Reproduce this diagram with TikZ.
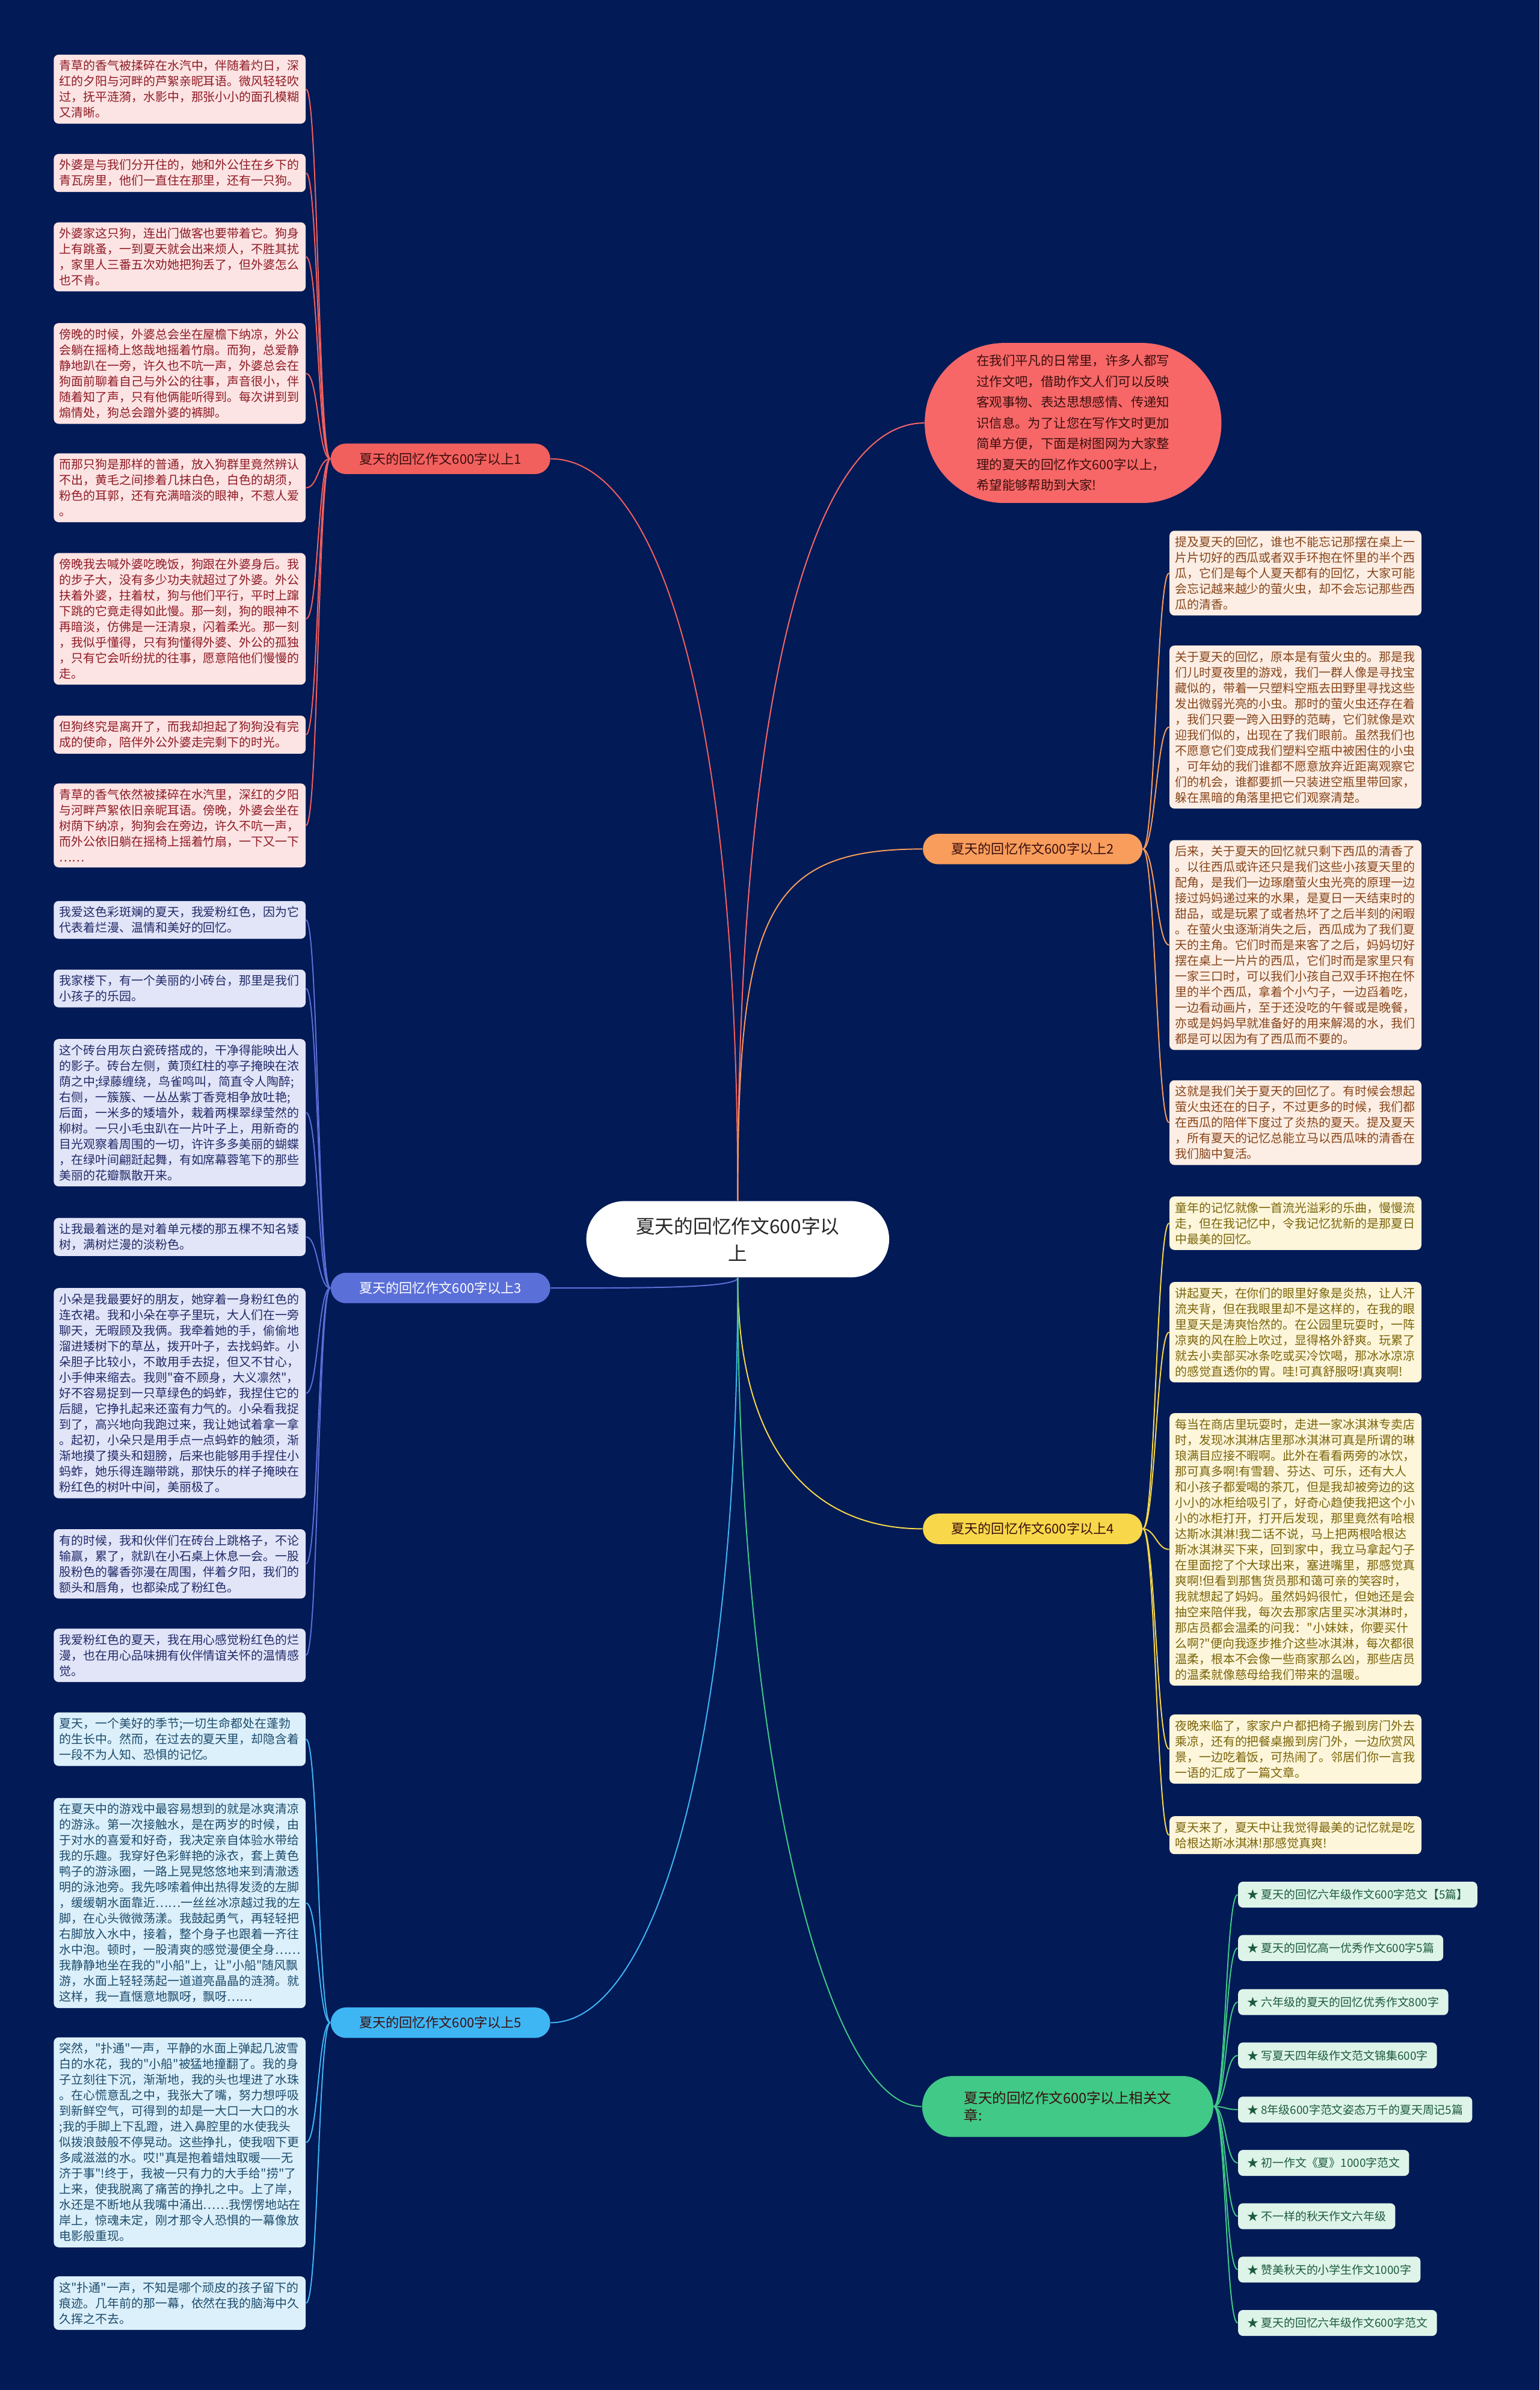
\documentclass[tikz,border=0pt]{standalone}
\usepackage{fontspec}
\setmainfont{Noto Sans CJK SC}[Ligatures=TeXOff]
\usepackage{xcolor}
\usepackage{tikz}
\usetikzlibrary{shapes.misc, backgrounds, positioning}
\exhyphenpenalty=10000
\definecolor{fond}{HTML}{021A56}
\definecolor{rouge}{HTML}{F2605E}
\definecolor{corail}{HTML}{F76767}
\definecolor{orangeb}{HTML}{F89D5C}
\definecolor{lavande}{HTML}{5B6FD8}
\definecolor{jaune}{HTML}{F8D84A}
\definecolor{ciel}{HTML}{3FB6F4}
\definecolor{menthe}{HTML}{40C987}
\definecolor{roseclair}{HTML}{FDE4E4}
\definecolor{bordeaux}{HTML}{8E1B24}
\definecolor{lavclair}{HTML}{E2E5F8}
\definecolor{marine}{HTML}{202A68}
\definecolor{cielclair}{HTML}{DCF0FB}
\definecolor{petrole}{HTML}{1D4C6C}
\definecolor{pecheclair}{HTML}{FCEEE4}
\definecolor{brun}{HTML}{87441A}
\definecolor{cremeclair}{HTML}{FDF6DB}
\definecolor{olive}{HTML}{7B6409}
\definecolor{mentheclair}{HTML}{DEF4E9}
\definecolor{sapin}{HTML}{1C5B3C}
\definecolor{encre}{HTML}{3A0E0E}
\tikzset{
  carte/.style={rectangle, rounded corners=0.08cm, text width=3.95cm,
    inner xsep=0.09cm, inner ysep=0.09cm, align=left, anchor=west,
    font=\fontsize{5.6}{7.3}\selectfont},
  carterose/.style={carte, fill=roseclair, text=bordeaux},
  cartelav/.style={carte, fill=lavclair, text=marine},
  carteciel/.style={carte, fill=cielclair, text=petrole},
  cartepeche/.style={carte, fill=pecheclair, text=brun},
  cartecreme/.style={carte, fill=cremeclair, text=olive},
  article/.style={rectangle, rounded corners=0.08cm, fill=mentheclair, text=sapin,
    minimum height=0.425cm, inner xsep=0.15cm, inner ysep=0.5mm, anchor=west,
    font=\fontsize{5.3}{6}\selectfont},
  branche/.style={rounded rectangle, minimum width=3.7cm, minimum height=0.5cm,
    inner sep=0.5mm, text=encre, font=\fontsize{6.2}{7}\selectfont},
  racine/.style={rounded rectangle, fill=white, text=black!85, minimum width=5.2cm,
    minimum height=1.25cm, align=center, font=\fontsize{8.9}{12.8}\selectfont},
  lien/.style={draw=#1, line width=0.55pt},
}

\begin{document}
\begin{tikzpicture}[x=0.025cm, y=-0.025cm]
    \useasboundingbox (0,0) rectangle (1010,1568);

    % centre et branches
    \node[racine] (centre) at (484,813) {夏天的回忆作文600字以\\上};
    \node[rounded rectangle, fill=corail, text=encre, minimum width=5.1cm, minimum height=2.625cm,
          align=left, font=\fontsize{6}{9.7}\selectfont] (intro) at (704,277.5)
      {在我们平凡的日常里，许多人都写\\过作文吧，借助作文人们可以反映\\客观事物、表达思想感情、传递知\\识信息。为了让您在写作文时更加\\简单方便，下面是树图网为大家整\\理的夏天的回忆作文600字以上，\\希望能够帮助到大家!};
    \node[branche, fill=rouge] (br1) at (289,301) {夏天的回忆作文600字以上1};
    \node[branche, fill=orangeb] (br2) at (677.5,557) {夏天的回忆作文600字以上2};
    \node[branche, fill=lavande, text=white] (br3) at (289,845) {夏天的回忆作文600字以上3};
    \node[branche, fill=jaune] (br4) at (677.5,1003) {夏天的回忆作文600字以上4};
    \node[branche, fill=ciel] (br5) at (289,1327) {夏天的回忆作文600字以上5};
    \node[branche, fill=menthe, minimum width=4.875cm, minimum height=1cm, align=left,
          font=\fontsize{6.6}{8.2}\selectfont] (liens) at (700.5,1382)
      {夏天的回忆作文600字以上相关文\\章:};

    % branche 1
    \node[carterose] (un1) at (35,58.5) {青草的香气被揉碎在水汽中，伴随着灼日，深\\红的夕阳与河畔的芦絮亲昵耳语。微风轻轻吹\\过，抚平涟漪，水影中，那张小小的面孔模糊\\又清晰。};
    \node[carterose] (un2) at (35,113.5) {外婆是与我们分开住的，她和外公住在乡下的\\青瓦房里，他们一直住在那里，还有一只狗。};
    \node[carterose] (un3) at (35,168.5) {外婆家这只狗，连出门做客也要带着它。狗身\\上有跳蚤，一到夏天就会出来烦人，不胜其扰\\，家里人三番五次劝她把狗丢了，但外婆怎么\\也不肯。};
    \node[carterose] (un4) at (35,245) {傍晚的时候，外婆总会坐在屋檐下纳凉，外公\\会躺在摇椅上悠哉地摇着竹扇。而狗，总爱静\\静地趴在一旁，许久也不吭一声，外婆总会在\\狗面前聊着自己与外公的往事，声音很小，伴\\随着知了声，只有他俩能听得到。每次讲到到\\煽情处，狗总会蹭外婆的裤脚。};
    \node[carterose] (un5) at (35,320) {而那只狗是那样的普通，放入狗群里竟然辨认\\不出，黄毛之间掺着几抹白色，白色的胡须，\\粉色的耳郭，还有充满暗淡的眼神，不惹人爱\\。};
    \node[carterose] (un6) at (35,406) {傍晚我去喊外婆吃晚饭，狗跟在外婆身后。我\\的步子大，没有多少功夫就超过了外婆。外公\\扶着外婆，拄着杖，狗与他们平行，平时上蹿\\下跳的它竟走得如此慢。那一刻，狗的眼神不\\再暗淡，仿佛是一汪清泉，闪着柔光。那一刻\\，我似乎懂得，只有狗懂得外婆、外公的孤独\\，只有它会听纷扰的往事，愿意陪他们慢慢的\\走。};
    \node[carterose] (un7) at (35,482) {但狗终究是离开了，而我却担起了狗狗没有完\\成的使命，陪伴外公外婆走完剩下的时光。};
    \node[carterose] (un8) at (35,541.5) {青草的香气依然被揉碎在水汽里，深红的夕阳\\与河畔芦絮依旧亲昵耳语。傍晚，外婆会坐在\\树荫下纳凉，狗狗会在旁边，许久不吭一声，\\而外公依旧躺在摇椅上摇着竹扇，一下又一下\\……};

    % branche 3
    \node[cartelav] (trois1) at (35,603.5) {我爱这色彩斑斓的夏天，我爱粉红色，因为它\\代表着烂漫、温情和美好的回忆。};
    \node[cartelav] (trois2) at (35,648.5) {我家楼下，有一个美丽的小砖台，那里是我们\\小孩子的乐园。};
    \node[cartelav] (trois3) at (35,730) {这个砖台用灰白瓷砖搭成的，干净得能映出人\\的影子。砖台左侧，黄顶红柱的亭子掩映在浓\\荫之中;绿藤缠绕，鸟雀鸣叫，简直令人陶醉;\\右侧，一簇簇、一丛丛紫丁香竞相争放吐艳;\\后面，一米多的矮墙外，栽着两棵翠绿莹然的\\柳树。一只小毛虫趴在一片叶子上，用新奇的\\目光观察着周围的一切，许许多多美丽的蝴蝶\\，在绿叶间翩跹起舞，有如席幕蓉笔下的那些\\美丽的花瓣飘散开来。};
    \node[cartelav] (trois4) at (35,811.5) {让我最着迷的是对着单元楼的那五棵不知名矮\\树，满树烂漫的淡粉色。};
    \node[cartelav] (trois5) at (35,914) {小朵是我最要好的朋友，她穿着一身粉红色的\\连衣裙。我和小朵在亭子里玩，大人们在一旁\\聊天，无暇顾及我俩。我牵着她的手，偷偷地\\溜进矮树下的草丛，拨开叶子，去找蚂蚱。小\\朵胆子比较小，不敢用手去捉，但又不甘心，\\小手伸来缩去。我则"奋不顾身，大义凛然"，\\好不容易捉到一只草绿色的蚂蚱，我捏住它的\\后腿，它挣扎起来还蛮有力气的。小朵看我捉\\到了，高兴地向我跑过来，我让她试着拿一拿\\。起初，小朵只是用手点一点蚂蚱的触须，渐\\渐地摸了摸头和翅膀，后来也能够用手捏住小\\蚂蚱，她乐得连蹦带跳，那快乐的样子掩映在\\粉红色的树叶中间，美丽极了。};
    \node[cartelav] (trois6) at (35,1026) {有的时候，我和伙伴们在砖台上跳格子，不论\\输赢，累了，就趴在小石桌上休息一会。一股\\股粉色的馨香弥漫在周围，伴着夕阳，我们的\\额头和唇角，也都染成了粉红色。};
    \node[cartelav] (trois7) at (35,1086) {我爱粉红色的夏天，我在用心感觉粉红色的烂\\漫，也在用心品味拥有伙伴情谊关怀的温情感\\觉。};

    % branche 5
    \node[carteciel] (cinq1) at (35,1141) {夏天，一个美好的季节;一切生命都处在蓬勃\\的生长中。然而，在过去的夏天里，却隐含着\\一段不为人知、恐惧的记忆。};
    \node[carteciel] (cinq2) at (35,1248.5) {在夏天中的游戏中最容易想到的就是冰爽清凉\\的游泳。第一次接触水，是在两岁的时候，由\\于对水的喜爱和好奇，我决定亲自体验水带给\\我的乐趣。我穿好色彩鲜艳的泳衣，套上黄色\\鸭子的游泳圈，一路上晃晃悠悠地来到清澈透\\明的泳池旁。我先哆嗦着伸出热得发烫的左脚\\，缓缓朝水面靠近……一丝丝冰凉越过我的左\\脚，在心头微微荡漾。我鼓起勇气，再轻轻把\\右脚放入水中，接着，整个身子也跟着一齐往\\水中泡。顿时，一股清爽的感觉漫便全身……\\我静静地坐在我的"小船"上，让"小船"随风飘\\游，水面上轻轻荡起一道道亮晶晶的涟漪。就\\这样，我一直惬意地飘呀，飘呀……};
    \node[carteciel] (cinq3) at (35,1405.5) {突然，"扑通"一声，平静的水面上弹起几波雪\\白的水花，我的"小船"被猛地撞翻了。我的身\\子立刻往下沉，渐渐地，我的头也埋进了水珠\\。在心慌意乱之中，我张大了嘴，努力想呼吸\\到新鲜空气，可得到的却是一大口一大口的水\\;我的手脚上下乱蹬，进入鼻腔里的水使我头\\似拨浪鼓般不停晃动。这些挣扎，使我咽下更\\多咸滋滋的水。哎!"真是抱着蜡烛取暖——无\\济于事"!终于，我被一只有力的大手给"捞"了\\上来，使我脱离了痛苦的挣扎之中。上了岸，\\水还是不断地从我嘴中涌出……我愣愣地站在\\岸上，惊魂未定，刚才那令人恐惧的一幕像放\\电影般重现。};
    \node[carteciel] (cinq4) at (35,1511) {这"扑通"一声，不知是哪个顽皮的孩子留下的\\痕迹。几年前的那一幕，依然在我的脑海中久\\久挥之不去。};

    % branche 2
    \node[cartepeche] (deux1) at (767,376) {提及夏天的回忆，谁也不能忘记那摆在桌上一\\片片切好的西瓜或者双手环抱在怀里的半个西\\瓜，它们是每个人夏天都有的回忆，大家可能\\会忘记越来越少的萤火虫，却不会忘记那些西\\瓜的清香。};
    \node[cartepeche] (deux2) at (767,477) {关于夏天的回忆，原本是有萤火虫的。那是我\\们儿时夏夜里的游戏，我们一群人像是寻找宝\\藏似的，带着一只塑料空瓶去田野里寻找这些\\发出微弱光亮的小虫。那时的萤火虫还存在着\\，我们只要一跨入田野的范畴，它们就像是欢\\迎我们似的，出现在了我们眼前。虽然我们也\\不愿意它们变成我们塑料空瓶中被困住的小虫\\，可年幼的我们谁都不愿意放弃近距离观察它\\们的机会，谁都要抓一只装进空瓶里带回家，\\躲在黑暗的角落里把它们观察清楚。};
    \node[cartepeche] (deux3) at (767,620) {后来，关于夏天的回忆就只剩下西瓜的清香了\\。以往西瓜或许还只是我们这些小孩夏天里的\\配角，是我们一边琢磨萤火虫光亮的原理一边\\接过妈妈递过来的水果，是夏日一天结束时的\\甜品，或是玩累了或者热坏了之后半刻的闲暇\\。在萤火虫逐渐消失之后，西瓜成为了我们夏\\天的主角。它们时而是来客了之后，妈妈切好\\摆在桌上一片片的西瓜，它们时而是家里只有\\一家三口时，可以我们小孩自己双手环抱在怀\\里的半个西瓜，拿着个小勺子，一边舀着吃，\\一边看动画片，至于还没吃的午餐或是晚餐，\\亦或是妈妈早就准备好的用来解渴的水，我们\\都是可以因为有了西瓜而不要的。};
    \node[cartepeche] (deux4) at (767,736.5) {这就是我们关于夏天的回忆了。有时候会想起\\萤火虫还在的日子，不过更多的时候，我们都\\在西瓜的陪伴下度过了炎热的夏天。提及夏天\\，所有夏天的记忆总能立马以西瓜味的清香在\\我们脑中复活。};

    % branche 4
    \node[cartecreme] (quatre1) at (767,802.5) {童年的记忆就像一首流光溢彩的乐曲，慢慢流\\走，但在我记忆中，令我记忆犹新的是那夏日\\中最美的回忆。};
    \node[cartecreme] (quatre2) at (767,874) {讲起夏天，在你们的眼里好象是炎热，让人汗\\流夹背，但在我眼里却不是这样的，在我的眼\\里夏天是涛爽怡然的。在公园里玩耍时，一阵\\凉爽的风在脸上吹过，显得格外舒爽。玩累了\\就去小卖部买冰条吃或买冷饮喝，那冰冰凉凉\\的感觉直透你的胃。哇!可真舒服呀!真爽啊!};
    \node[cartecreme] (quatre3) at (767,1016.5) {每当在商店里玩耍时，走进一家冰淇淋专卖店\\时，发现冰淇淋店里那冰淇淋可真是所谓的琳\\琅满目应接不暇啊。此外在看看两旁的冰饮，\\那可真多啊!有雪碧、芬达、可乐，还有大人\\和小孩子都爱喝的茶兀，但是我却被旁边的这\\小小的冰柜给吸引了，好奇心趋使我把这个小\\小的冰柜打开，打开后发现，那里竟然有哈根\\达斯冰淇淋!我二话不说，马上把两根哈根达\\斯冰淇淋买下来，回到家中，我立马拿起勺子\\在里面挖了个大球出来，塞进嘴里，那感觉真\\爽啊!但看到那售货员那和蔼可亲的笑容时，\\我就想起了妈妈。虽然妈妈很忙，但她还是会\\抽空来陪伴我，每次去那家店里买冰淇淋时，\\那店员都会温柔的问我："小妹妹，你要买什\\么啊?"便向我逐步推介这些冰淇淋，每次都很\\温柔，根本不会像一些商家那么凶，那些店员\\的温柔就像慈母给我们带来的温暖。};
    \node[cartecreme] (quatre4) at (767,1147.5) {夜晚来临了，家家户户都把椅子搬到房门外去\\乘凉，还有的把餐桌搬到房门外，一边欣赏风\\景，一边吃着饭，可热闹了。邻居们你一言我\\一语的汇成了一篇文章。};
    \node[cartecreme] (quatre5) at (767,1204) {夏天来了，夏天中让我觉得最美的记忆就是吃\\哈根达斯冰淇淋!那感觉真爽!};

    % articles
    \node[article] (art1) at (812,1243) {★ 夏天的回忆六年级作文600字范文【5篇】};
    \node[article] (art2) at (812,1278) {★ 夏天的回忆高一优秀作文600字5篇};
    \node[article] (art3) at (812,1313.5) {★ 六年级的夏天的回忆优秀作文800字};
    \node[article] (art4) at (812,1348.5) {★ 写夏天四年级作文范文锦集600字};
    \node[article] (art5) at (812,1384) {★ 8年级600字范文姿态万千的夏天周记5篇};
    \node[article] (art6) at (812,1419) {★ 初一作文《夏》1000字范文};
    \node[article] (art7) at (812,1454) {★ 不一样的秋天作文六年级};
    \node[article] (art8) at (812,1489) {★ 赞美秋天的小学生作文1000字};
    \node[article] (art9) at (812,1524) {★ 夏天的回忆六年级作文600字范文};

    \begin{scope}[on background layer]
      \fill[fond] (0,0) rectangle (1010,1568);
      % liens du centre
      \draw[lien=rouge] (centre.north) .. controls +(0,-338) and +(67,0) .. (br1.east);
      \draw[lien=corail] (centre.north) .. controls +(0,-338) and +(-72,0) .. (intro.west);
      \draw[lien=orangeb] (centre.north) .. controls +(0,-188) and +(-103,0) .. (br2.west);
      \draw[lien=lavande] (centre.south) .. controls +(0,7) and +(57,0) .. (br3.east);
      \draw[lien=jaune] (centre.south) .. controls +(0,112) and +(-73,0) .. (br4.west);
      \draw[lien=ciel] (centre.south) .. controls +(0,312) and +(67,0) .. (br5.east);
      \draw[lien=menthe] (centre.south) .. controls +(0,312) and +(-63,0) .. (liens.west);
      % branche 1
      \draw[lien=rouge] (br1.west) .. controls +(-8,0) and +(8,0) .. (un1.east);
      \draw[lien=rouge] (br1.west) .. controls +(-8,0) and +(8,0) .. (un2.east);
      \draw[lien=rouge] (br1.west) .. controls +(-8,0) and +(8,0) .. (un3.east);
      \draw[lien=rouge] (br1.west) .. controls +(-8,0) and +(8,0) .. (un4.east);
      \draw[lien=rouge] (br1.west) .. controls +(-8,0) and +(8,0) .. (un5.east);
      \draw[lien=rouge] (br1.west) .. controls +(-8,0) and +(8,0) .. (un6.east);
      \draw[lien=rouge] (br1.west) .. controls +(-8,0) and +(8,0) .. (un7.east);
      \draw[lien=rouge] (br1.west) .. controls +(-8,0) and +(8,0) .. (un8.east);
      % branche 3
      \draw[lien=lavande] (br3.west) .. controls +(-8,0) and +(8,0) .. (trois1.east);
      \draw[lien=lavande] (br3.west) .. controls +(-8,0) and +(8,0) .. (trois2.east);
      \draw[lien=lavande] (br3.west) .. controls +(-8,0) and +(8,0) .. (trois3.east);
      \draw[lien=lavande] (br3.west) .. controls +(-8,0) and +(8,0) .. (trois4.east);
      \draw[lien=lavande] (br3.west) .. controls +(-8,0) and +(8,0) .. (trois5.east);
      \draw[lien=lavande] (br3.west) .. controls +(-8,0) and +(8,0) .. (trois6.east);
      \draw[lien=lavande] (br3.west) .. controls +(-8,0) and +(8,0) .. (trois7.east);
      % branche 5
      \draw[lien=ciel] (br5.west) .. controls +(-8,0) and +(8,0) .. (cinq1.east);
      \draw[lien=ciel] (br5.west) .. controls +(-8,0) and +(8,0) .. (cinq2.east);
      \draw[lien=ciel] (br5.west) .. controls +(-8,0) and +(8,0) .. (cinq3.east);
      \draw[lien=ciel] (br5.west) .. controls +(-8,0) and +(8,0) .. (cinq4.east);
      % branche 2
      \draw[lien=orangeb] (br2.east) .. controls +(8,0) and +(-8,0) .. (deux1.west);
      \draw[lien=orangeb] (br2.east) .. controls +(8,0) and +(-8,0) .. (deux2.west);
      \draw[lien=orangeb] (br2.east) .. controls +(8,0) and +(-8,0) .. (deux3.west);
      \draw[lien=orangeb] (br2.east) .. controls +(8,0) and +(-8,0) .. (deux4.west);
      % branche 4
      \draw[lien=jaune] (br4.east) .. controls +(8,0) and +(-8,0) .. (quatre1.west);
      \draw[lien=jaune] (br4.east) .. controls +(8,0) and +(-8,0) .. (quatre2.west);
      \draw[lien=jaune] (br4.east) .. controls +(8,0) and +(-8,0) .. (quatre3.west);
      \draw[lien=jaune] (br4.east) .. controls +(8,0) and +(-8,0) .. (quatre4.west);
      \draw[lien=jaune] (br4.east) .. controls +(8,0) and +(-8,0) .. (quatre5.west);
      % articles
      \draw[lien=menthe] (liens.east) .. controls +(8,0) and +(-8,0) .. (art1.west);
      \draw[lien=menthe] (liens.east) .. controls +(8,0) and +(-8,0) .. (art2.west);
      \draw[lien=menthe] (liens.east) .. controls +(8,0) and +(-8,0) .. (art3.west);
      \draw[lien=menthe] (liens.east) .. controls +(8,0) and +(-8,0) .. (art4.west);
      \draw[lien=menthe] (liens.east) .. controls +(8,0) and +(-8,0) .. (art5.west);
      \draw[lien=menthe] (liens.east) .. controls +(8,0) and +(-8,0) .. (art6.west);
      \draw[lien=menthe] (liens.east) .. controls +(8,0) and +(-8,0) .. (art7.west);
      \draw[lien=menthe] (liens.east) .. controls +(8,0) and +(-8,0) .. (art8.west);
      \draw[lien=menthe] (liens.east) .. controls +(8,0) and +(-8,0) .. (art9.west);
    \end{scope}
  \end{tikzpicture}
\end{document}
